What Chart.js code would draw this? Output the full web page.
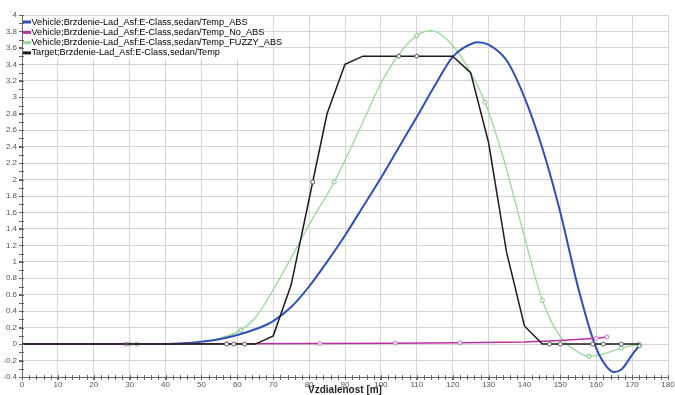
<!DOCTYPE html>
<html>
<head>
<meta charset="utf-8">
<script src="https://cdn.jsdelivr.net/npm/chart.js@4"></script>
<style>
    body { margin: 0; background: #fff; }
    #wrap { width: 675px; height: 395px; }
</style>
</head>
<body>
<div id="wrap"><canvas id="brakeChart"></canvas></div>
<script>
// ============================================
// Brzdenie - teplota vs vzdialenost
// ============================================

const xTicks = [0, 10, 20, 30, 40, 50, 60, 70, 80, 90, 100, 110, 120, 130, 140, 150, 160, 170, 180];
const yTicks = [-0.4, -0.2, 0, 0.2, 0.4, 0.6, 0.8, 1, 1.2, 1.4, 1.6, 1.8, 2, 2.2, 2.4, 2.6, 2.8, 3, 3.2, 3.4, 3.6, 3.8, 4];

const seriesLabels = [
    'Vehicle;Brzdenie-Lad_Asf:E-Class,sedan/Temp_ABS',
    'Vehicle;Brzdenie-Lad_Asf:E-Class,sedan/Temp_No_ABS',
    'Vehicle;Brzdenie-Lad_Asf:E-Class,sedan/Temp_FUZZY_ABS',
    'Target;Brzdenie-Lad_Asf:E-Class,sedan/Temp'
];

// Temp_ABS
const absX = [0, 40, 45, 50, 55, 60, 65, 70, 75, 80, 85, 90, 95, 100, 105, 110, 115, 120, 123, 127, 130, 135, 140, 145, 150, 155, 160, 163, 165, 167, 170, 172];
const absY = [0, 0, 0.01, 0.03, 0.06, 0.11, 0.18, 0.28, 0.45, 0.7, 1.0, 1.32, 1.67, 2.02, 2.39, 2.76, 3.14, 3.49, 3.6, 3.67, 3.64, 3.45, 3.0, 2.38, 1.6, 0.68, -0.05, -0.28, -0.34, -0.31, -0.13, -0.02];
const absMarks = [172];

// Temp_No_ABS
const noAbsX = [0, 29, 57, 83, 104, 122, 140, 150, 160, 163];
const noAbsY = [0, 0, 0.003, 0.007, 0.01, 0.015, 0.025, 0.045, 0.07, 0.085];
const noAbsMarks = [29, 57, 83, 104, 122, 160, 163];

// Temp_FUZZY_ABS
const fuzzyX = [0, 30, 32, 45, 50, 55, 61, 65, 70, 75, 80, 87, 95, 100, 105, 110, 114, 120, 125, 129, 134, 139, 145, 150, 155, 158, 162, 167, 172];
const fuzzyY = [0, 0, 0, 0, 0.02, 0.07, 0.17, 0.32, 0.66, 1.05, 1.45, 1.97, 2.7, 3.17, 3.52, 3.75, 3.81, 3.63, 3.3, 2.94, 2.28, 1.47, 0.53, 0.09, -0.1, -0.15, -0.12, -0.05, 0];
const fuzzyMarks = [30, 32, 61, 87, 110, 129, 145, 158, 167, 172];

// Target Temp
const targetX = [0, 30, 57, 59, 62, 65, 70, 75, 81, 85, 90, 95, 105, 110, 120, 125, 130, 135, 140, 145, 147, 150, 159, 162, 167, 172];
const targetY = [0, 0, 0, 0, 0, 0, 0.1, 0.72, 1.97, 2.8, 3.4, 3.5, 3.5, 3.5, 3.5, 3.3, 2.45, 1.12, 0.22, 0, 0, 0, 0, 0, 0, 0];
const targetMarks = [57, 59, 62, 81, 105, 110, 147, 150, 159, 162, 167];

const colors = ['#2d50b8', '#b8309f', '#98da98', '#1c1c1c'];

function toPoints(xs, ys) {
    return xs.map((x, i) => ({ x: x, y: ys[i] }));
}

function markRadius(marks) {
    return ctx => (ctx.raw && marks.includes(ctx.raw.x)) ? 2 : 0;
}

// minor ticks on both axes
const minorTicks = {
    id: 'minorTicks',
    afterDraw(chart) {
        const c = chart.ctx;
        const xs = chart.scales.x;
        const ys = chart.scales.y;
        const area = chart.chartArea;
        c.save();
        c.strokeStyle = '#666';
        c.lineWidth = 1;
        c.beginPath();
        for (let v = 0; v <= 180; v += 2) {
            const px = Math.round(xs.getPixelForValue(v)) + 0.5;
            c.moveTo(px, area.bottom - 2);
            c.lineTo(px, area.bottom + 3);
        }
        for (let k = -4; k <= 40; k++) {
            const py = Math.round(ys.getPixelForValue(k / 10)) + 0.5;
            c.moveTo(area.left - 3, py);
            c.lineTo(area.left + 2, py);
        }
        c.stroke();
        c.restore();
    }
};

// legend drawn inside the plot, top left
const innerLegend = {
    id: 'innerLegend',
    afterDatasetsDraw(chart) {
        const c = chart.ctx;
        const area = chart.chartArea;
        c.save();
        c.fillStyle = '#fff';
        c.fillRect(area.left + 1, area.top + 1, 232, 43);
        c.font = '9.2px "Liberation Sans", Arial, sans-serif';
        c.textBaseline = 'middle';
        seriesLabels.forEach((label, i) => {
            const y = area.top + 7 + i * 10.3;
            c.fillStyle = colors[i];
            c.fillRect(area.left + 1, y - 1.5, 8, 3);
            c.fillStyle = '#000';
            c.fillText(label, area.left + 9.5, y);
        });
        c.restore();
    }
};

const tickFont = { family: '"Liberation Sans", Arial, sans-serif', size: 8 };

const ctx = document.getElementById('brakeChart');
const brakeChart = new Chart(ctx, {
    type: 'line',
    data: {
        datasets: [
            {
                label: seriesLabels[0],
                data: toPoints(absX, absY),
                borderColor: colors[0],
                borderWidth: 2,
                cubicInterpolationMode: 'monotone',
                pointRadius: markRadius(absMarks),
                pointBorderColor: '#4a7a4a',
                pointBackgroundColor: '#fff',
                pointBorderWidth: 1,
                order: 2
            },
            {
                label: seriesLabels[1],
                data: toPoints(noAbsX, noAbsY),
                borderColor: colors[1],
                borderWidth: 1.5,
                tension: 0,
                pointRadius: markRadius(noAbsMarks),
                pointBorderColor: '#d070c0',
                pointBackgroundColor: '#fff',
                pointBorderWidth: 1,
                order: 1
            },
            {
                label: seriesLabels[2],
                data: toPoints(fuzzyX, fuzzyY),
                borderColor: colors[2],
                borderWidth: 1.3,
                cubicInterpolationMode: 'monotone',
                pointRadius: markRadius(fuzzyMarks),
                pointBorderColor: '#7cc47c',
                pointBackgroundColor: '#fff',
                pointBorderWidth: 1,
                order: 3
            },
            {
                label: seriesLabels[3],
                data: toPoints(targetX, targetY),
                borderColor: colors[3],
                borderWidth: 1.5,
                tension: 0,
                pointRadius: markRadius(targetMarks),
                pointBorderColor: '#555',
                pointBackgroundColor: '#fff',
                pointBorderWidth: 1,
                order: 0
            }
        ]
    },
    options: {
        responsive: true,
        maintainAspectRatio: false,
        animation: false,
        layout: { padding: { top: 15, right: 7, bottom: 0, left: 0 } },
        plugins: {
            legend: { display: false },
            tooltip: { enabled: false }
        },
        scales: {
            x: {
                type: 'linear',
                min: 0,
                max: 180,
                afterBuildTicks: scale => { scale.ticks = xTicks.map(v => ({ value: v })); },
                afterFit: scale => { scale.height = 18; },
                ticks: {
                    font: tickFont,
                    color: '#555',
                    padding: 0,
                    maxRotation: 0,
                    autoSkip: false
                },
                grid: { color: '#d4d4d4', tickLength: 3, tickColor: '#666' },
                border: { color: '#666' },
                title: {
                    display: true,
                    text: 'Vzdialenost [m]',
                    color: '#222',
                    padding: { top: 0, bottom: -1 },
                    font: { family: '"Liberation Sans", Arial, sans-serif', size: 10, weight: 'bold' }
                }
            },
            y: {
                min: -0.4,
                max: 4,
                afterBuildTicks: scale => { scale.ticks = yTicks.map(v => ({ value: v })); },
                afterFit: scale => { scale.width = 22; },
                ticks: {
                    font: tickFont,
                    color: '#555',
                    padding: 2,
                    autoSkip: false,
                    callback: v => String(Number(v.toFixed(1)))
                },
                grid: { color: '#d4d4d4', tickLength: 3, tickColor: '#666' },
                border: { color: '#666' }
            }
        }
    },
    plugins: [minorTicks, innerLegend]
});
</script>
</body>
</html>
